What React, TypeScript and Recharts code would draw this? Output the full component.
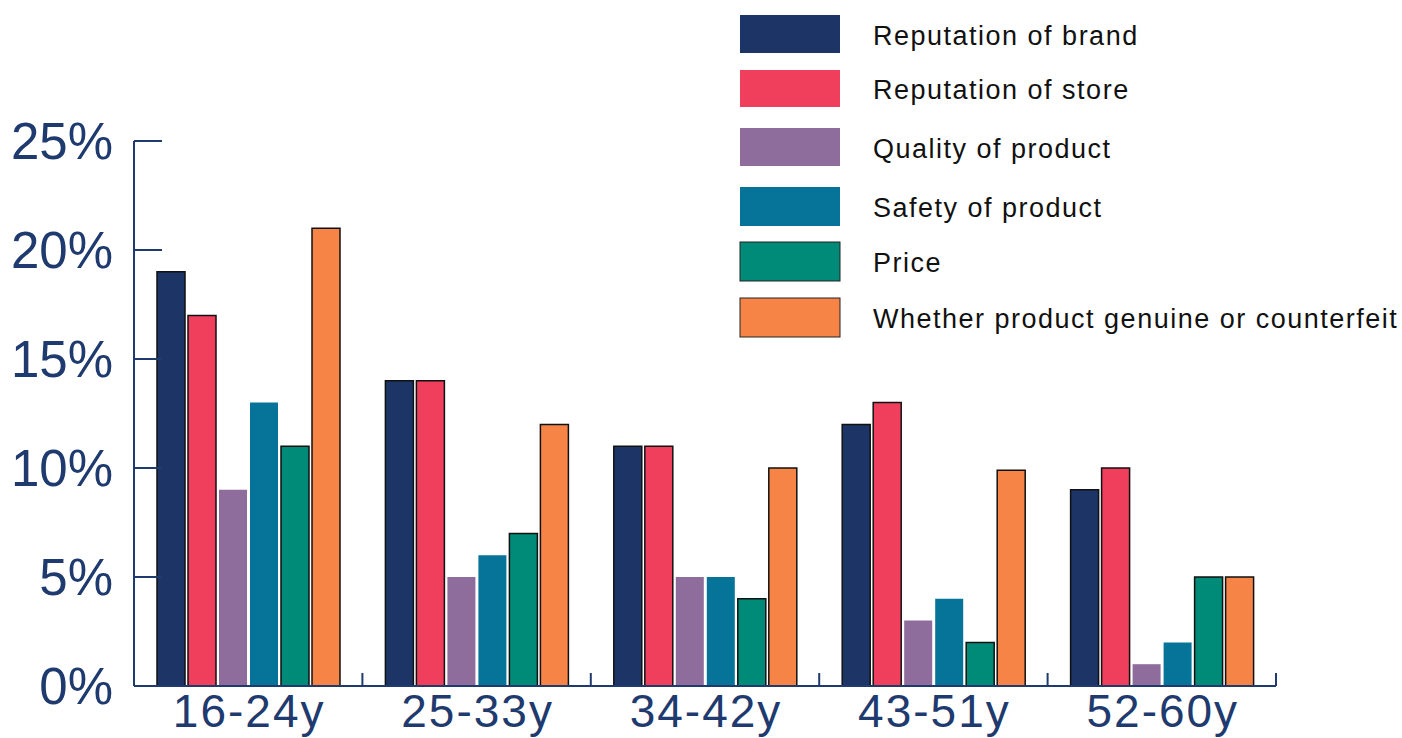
import { BarChart, Bar, XAxis, YAxis } from "recharts";

const ageGroups = ["16-24y", "25-33y", "34-42y", "43-51y", "52-60y"];
const brand = [19, 14, 11, 12, 9];
const store = [17, 14, 11, 13, 10];
const quality = [9, 5, 5, 3, 1];
const safety = [13, 6, 5, 4, 2];
const price = [11, 7, 4, 2, 5];
const genuine = [21, 12, 10, 9.9, 5];
const yTicks = [0, 5, 10, 15, 20, 25];

const series = [
  { key: "brand", name: "Reputation of brand", color: "#1c3566", stroke: true },
  { key: "store", name: "Reputation of store", color: "#ef3f5d", stroke: true },
  { key: "quality", name: "Quality of product", color: "#8e6c9b", stroke: false },
  { key: "safety", name: "Safety of product", color: "#067499", stroke: false },
  { key: "price", name: "Price", color: "#008a78", stroke: true },
  { key: "genuine", name: "Whether product genuine or counterfeit", color: "#f68446", stroke: true },
];

const data = ageGroups.map((g, i) => ({
  group: g,
  brand: brand[i],
  store: store[i],
  quality: quality[i],
  safety: safety[i],
  price: price[i],
  genuine: genuine[i],
}));

const AXIS = "#1e3a6e";
const W = 1402;
const H = 738;
const LEFT = 134;
const RIGHT = 126;
const TOP = 141;
const BOTTOM = 52;
const band = (W - LEFT - RIGHT) / ageGroups.length;

const YTick = (props: any) => {
  const { x, y, payload } = props;
  return (
    <g>
      <line x1={x} y1={y} x2={x + 28} y2={y} stroke={AXIS} strokeWidth={2} />
      <text x={x - 21} y={y} dy="0.36em" textAnchor="end" fill={AXIS} fontSize={51} fontFamily="Liberation Sans, Arial, sans-serif">
        {payload.value}%
      </text>
    </g>
  );
};

const XTick = (props: any) => {
  const { x, y, payload } = props;
  const bx = x + band / 2;
  return (
    <g>
      <line x1={bx} y1={y} x2={bx} y2={y - 13} stroke={AXIS} strokeWidth={2} />
      <text x={x + 1} y={y + 41} textAnchor="middle" fill={AXIS} fontSize={46} letterSpacing={2} fontFamily="Liberation Sans, Arial, sans-serif">
        {payload.value}
      </text>
    </g>
  );
};

const swatchY = [15, 70, 128, 187, 242, 298];
const swatchH = [38, 37, 38, 39, 39, 39];

const LegendBox = () => (
  <svg width={W} height={360} style={{ display: "block" }}>
    {series.map((s, i) => (
      <g key={s.key}>
        <rect
          x={740}
          y={swatchY[i]}
          width={100}
          height={swatchH[i]}
          fill={s.color}
          stroke={i >= 4 ? "#222" : "none"}
          strokeWidth={1}
        />
        <text
          x={873}
          y={swatchY[i] + swatchH[i] / 2 + 1}
          dy="0.36em"
          fill="#111"
          fontSize={27}
          letterSpacing={1.5}
          fontFamily="Liberation Sans, Arial, sans-serif"
        >
          {s.name}
        </text>
      </g>
    ))}
  </svg>
);

export default function App() {
  return (
    <div style={{ position: "absolute", left: 0, top: 0, width: W, height: H, background: "#fff" }}>
      <BarChart
        width={W}
        height={H}
        data={data}
        margin={{ top: TOP, right: RIGHT, bottom: 0, left: 0 }}
        barCategoryGap={23}
        barGap={3}
      >
        <XAxis
          dataKey="group"
          height={BOTTOM}
          tick={<XTick />}
          tickLine={false}
          tickSize={0}
          tickMargin={0}
          axisLine={{ stroke: AXIS, strokeWidth: 2 }}
          interval={0}
        />
        <YAxis
          width={LEFT}
          domain={[0, 25]}
          ticks={yTicks}
          tick={<YTick />}
          tickLine={false}
          tickSize={0}
          tickMargin={0}
          axisLine={{ stroke: AXIS, strokeWidth: 2 }}
          interval={0}
        />
        {series.map((s) => (
          <Bar
            key={s.key}
            dataKey={s.key}
            name={s.name}
            fill={s.color}
            stroke={s.stroke ? "#111" : "none"}
            strokeWidth={1.5}
            isAnimationActive={false}
          />
        ))}
      </BarChart>
      <div style={{ position: "absolute", left: 0, top: 0 }}>
        <LegendBox />
      </div>
    </div>
  );
}
